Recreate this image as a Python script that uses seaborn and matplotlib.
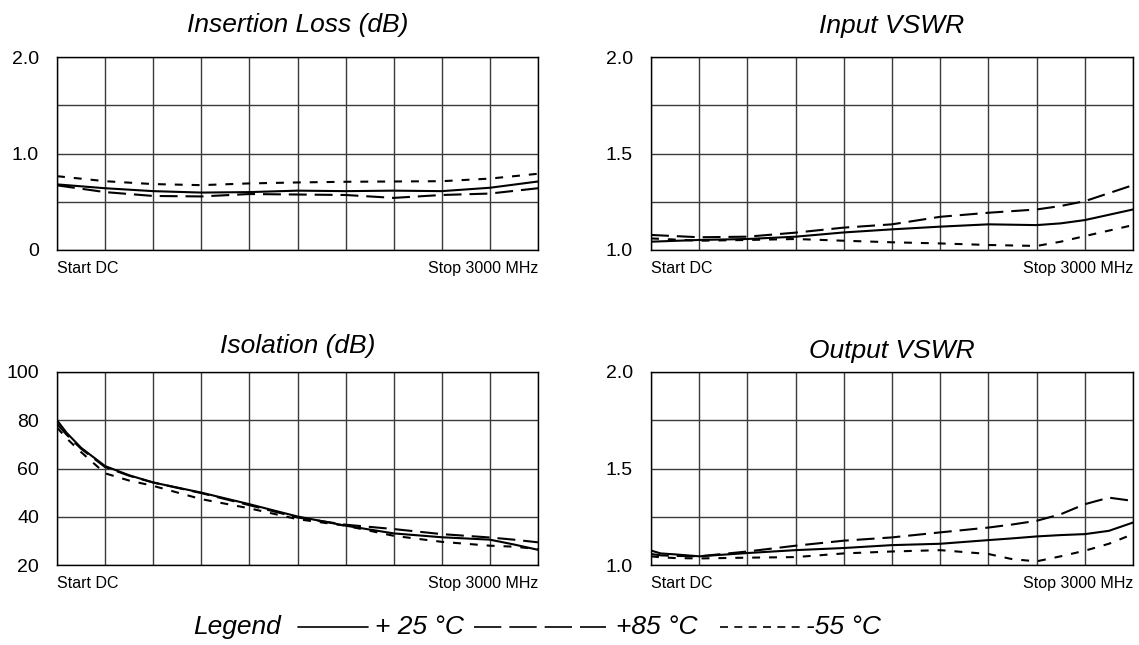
import numpy as np
import pandas as pd
import matplotlib.pyplot as plt
import seaborn as sns
from matplotlib.lines import Line2D

# ---- data (frequency in MHz) ----
temps = ['+25', '+85', '-55']

il_freq = [0, 300, 600, 900, 1200, 1500, 1800, 2100, 2400, 2700, 3000]
il_25 = [0.68, 0.64, 0.61, 0.595, 0.60, 0.615, 0.61, 0.615, 0.61, 0.645, 0.71]
il_85 = [0.67, 0.60, 0.56, 0.555, 0.58, 0.575, 0.57, 0.54, 0.57, 0.585, 0.64]
il_m55 = [0.765, 0.713, 0.683, 0.672, 0.69, 0.70, 0.707, 0.71, 0.713, 0.74, 0.79]

in_freq = [0, 300, 600, 900, 1200, 1500, 1800, 2100, 2400, 2550, 2700, 3000]
in_25 = [1.043, 1.052, 1.057, 1.069, 1.091, 1.107, 1.121, 1.133, 1.129, 1.138, 1.155, 1.21]
in_85 = [1.078, 1.066, 1.069, 1.09, 1.116, 1.133, 1.172, 1.193, 1.21, 1.228, 1.253, 1.336]
in_m55 = [1.06, 1.048, 1.052, 1.057, 1.048, 1.04, 1.034, 1.026, 1.021, 1.043, 1.072, 1.129]

iso_freq = [0, 60, 150, 300, 450, 600, 900, 1200, 1500, 1800, 2100, 2400, 2700, 2850, 3000]
iso_25 = [80, 74.8, 68.6, 61, 57.2, 54.2, 50, 45.2, 40.1, 36.3, 33.1, 31.5, 30.5, 28.5, 26.3]
iso_85 = [78.5, 74, 68.2, 60.6, 57, 54.2, 49.8, 44.8, 39.7, 36.7, 34.9, 32.8, 31.4, 30.5, 29.4]
iso_m55 = [77, 72.5, 66.8, 58, 55, 52.8, 47.3, 43.5, 39, 36.3, 32.1, 29.6, 28, 27.6, 26.6]

out_freq = [0, 60, 150, 300, 600, 900, 1200, 1500, 1800, 2100, 2250, 2400, 2550, 2700, 2850, 3000]
out_25 = [1.075, 1.06, 1.055, 1.045, 1.062, 1.077, 1.088, 1.103, 1.11, 1.129, 1.138, 1.148, 1.155, 1.16, 1.177, 1.22]
out_85 = [1.057, 1.05, 1.047, 1.045, 1.07, 1.10, 1.126, 1.143, 1.169, 1.194, 1.21, 1.229, 1.263, 1.315, 1.349, 1.332]
out_m55 = [1.045, 1.04, 1.036, 1.034, 1.038, 1.041, 1.060, 1.070, 1.077, 1.057, 1.03, 1.019, 1.045, 1.074, 1.11, 1.16]

panels = [
    ('Insertion Loss (dB)', il_freq, (il_25, il_85, il_m55),
     [0, 0.5, 1.0, 1.5, 2.0], ['0', '', '1.0', '', '2.0'], 18),
    ('Input VSWR', in_freq, (in_25, in_85, in_m55),
     [1.0, 1.25, 1.5, 1.75, 2.0], ['1.0', '', '1.5', '', '2.0'], 17),
    ('Isolation (dB)', iso_freq, (iso_25, iso_85, iso_m55),
     [20, 40, 60, 80, 100], ['20', '40', '60', '80', '100'], 14),
    ('Output VSWR', out_freq, (out_25, out_85, out_m55),
     [1.0, 1.25, 1.5, 1.75, 2.0], ['1.0', '', '1.5', '', '2.0'], 10),
]

sns.set_theme(style='white')
plt.rcParams['font.family'] = ['Liberation Sans', 'DejaVu Sans']
plt.rcParams['text.color'] = 'black'
plt.rcParams['axes.labelcolor'] = 'black'
plt.rcParams['xtick.color'] = 'black'
plt.rcParams['ytick.color'] = 'black'

W, H = 1139, 645
fig = plt.figure(figsize=(W / 100, H / 100), dpi=100)

# axes boxes in pixels: left, top, right, bottom
boxes = [(57, 57, 538, 250), (651, 57, 1133, 250),
         (57, 372, 538, 565), (651, 372, 1133, 565)]

dash_map = {'+25': '', '+85': (8.6, 3.8), '-55': (3.8, 4.3)}

for (title, freq, series, yt, ylab, tpad), (l, t, r, b) in zip(panels, boxes):
    ax = fig.add_axes([l / W, 1 - b / H, (r - l) / W, (b - t) / H])

    df = pd.concat([pd.DataFrame({'freq': freq, 'value': vals, 'temp': tp})
                    for tp, vals in zip(temps, series)])
    sns.lineplot(data=df, x='freq', y='value', style='temp', dashes=dash_map,
                 color='black', linewidth=1.5, legend=False, ax=ax)

    ax.set_xlim(0, 3000)
    ax.set_ylim(yt[0], yt[-1])
    ax.set_xticks(np.arange(0, 3001, 300))
    ax.set_xticklabels([])
    ax.set_yticks(yt)
    ax.set_yticklabels(ylab, fontsize=14)
    ax.tick_params(length=0, pad=13)
    ax.set_xlabel('')
    ax.set_ylabel('')
    ax.grid(True, color='#3a3a3a', linewidth=1.0)
    for sp in ax.spines.values():
        sp.set_color('black')
        sp.set_linewidth(1.0)

    ax.set_title(title, fontsize=19, style='italic', pad=tpad, color='black')
    ax.text(0, -0.095, 'Start DC', transform=ax.transAxes, ha='left', va='center', fontsize=11.5)
    ax.text(1, -0.095, 'Stop 3000 MHz', transform=ax.transAxes, ha='right', va='center', fontsize=11.5)

# ---- legend row at the bottom ----
ly = 1 - 627 / H
fig.text(193 / W, ly, 'Legend', ha='left', va='center', style='italic', fontsize=19)
legend_items = [
    (298, 368, '', '+ 25 °C', 375),
    (474, 606, (16.4, 4.8), '+85 °C', 616),
    (720, 800, (4.8, 3.8), '-55 °C', 806),
]
for x0, x1, dashes, label, tx in legend_items:
    ln = Line2D([x0 / W, x1 / W], [ly, ly], transform=fig.transFigure,
                color='black', linewidth=1.2)
    if dashes:
        ln.set_dashes(dashes)
    fig.add_artist(ln)
    fig.text(tx / W, ly, label, ha='left', va='center', style='italic', fontsize=19)

fig.savefig('out.png', dpi=100)
